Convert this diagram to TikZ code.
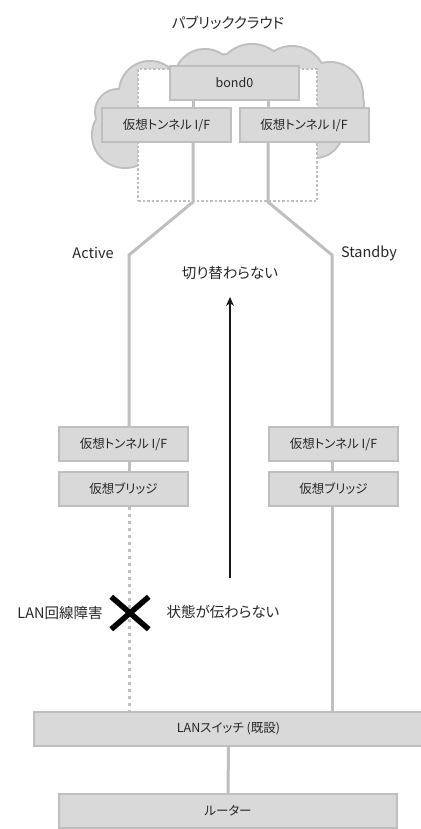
\documentclass[tikz,border=0pt]{standalone}
\usepackage{fontspec}
\setmainfont{Noto Sans CJK JP}[RawFeature=+palt]
\usetikzlibrary{arrows.meta,shapes.misc}
\definecolor{boxfill}{HTML}{D9D9D9}
\definecolor{boxline}{HTML}{BFBFBF}

\begin{document}
\begin{tikzpicture}[x=1pt,y=-1pt,
    box/.style={draw=boxline, fill=boxfill, line width=2pt, minimum width=129pt, minimum height=34pt,
                font=\fontsize{12.5}{14}\selectfont, text=black!85},
    lbl/.style={font=\fontsize{14.5}{17}\selectfont, text=black!85},
    link/.style={draw=boxline, line width=3pt}]
    \useasboundingbox (0,0) rectangle (420,829);

    % cloud: puffs outlined first, then filled
    \foreach \cx/\cy/\r in {125/135/32, 118/112/22, 150/92/30, 205/80/30, 252/80/35,
                            292/80/33, 330/95/32, 335/105/28, 315/130/27, 230/105/50,
                            180/115/40, 280/115/40}
        \fill[boxline] (\cx,\cy) circle[radius=\r+2];
    \foreach \cx/\cy/\r in {125/135/32, 118/112/22, 150/92/30, 205/80/30, 252/80/35,
                            292/80/33, 330/95/32, 335/105/28, 315/130/27, 230/105/50,
                            180/115/40, 280/115/40}
        \fill[boxfill] (\cx,\cy) circle[radius=\r];
    \node[draw=boxline, fill=white, line width=2pt, dash pattern=on 2.5pt off 2pt,
          minimum width=179pt, minimum height=132pt] (grp) at (227.5,135) {};
    \node[lbl] (title) at (228,23) {パブリッククラウド};

    \node[box] (bond) at (234.5,83) {bond0};
    \node[box] (tunA) at (166.5,125) {仮想トンネル I/F};
    \node[box] (tunS) at (304,125) {仮想トンネル I/F};

    \node[box] (tunA2) at (123.5,444) {仮想トンネル I/F};
    \node[box] (brA) at (123.5,489) {仮想ブリッジ};
    \node[box] (tunS2) at (333.5,444) {仮想トンネル I/F};
    \node[box] (brS) at (333.5,489) {仮想ブリッジ};

    \node[box, minimum width=389pt] (sw) at (228.5,729) {LANスイッチ (既設)};
    \node[box, minimum width=338pt] (rt) at (228,811) {ルーター};

    \coordinate (kA) at (193,202);
    \coordinate (kS) at (268,202);
    \coordinate (bA) at (129,255);
    \coordinate (bS) at (332,255);

    \path[link] (bond.south -| kA) -- (tunA.north -| kA);
    \path[link] (bond.south -| kS) -- (tunS.north -| kS);
    \path[link] (tunA.south -| kA) -- (kA) -- (bA) -- (tunA2.north -| bA);
    \path[link] (tunS.south -| kS) -- (kS) -- (bS) -- (tunS2.north -| bS);
    \path[link] (tunA2.south -| bA) -- (brA.north -| bA);
    \path[link] (tunS2.south -| bS) -- (brS.north -| bS);
    \path[link, dash pattern=on 3pt off 4pt] (brA.south -| bA) -- (sw.north -| bA);
    \path[link] (brS.south -| bS) -- (sw.north -| bS);
    \path[link] (sw.south) -- (rt.north);

    \node[lbl] (act) at (93,253) {Active};
    \node[lbl] (stb) at (369,253) {Standby};
    \node[lbl] (keep) at (230,273) {切り替わらない};

    \coordinate (a0) at (230,578);
    \coordinate (a1) at (230,297);
    \draw[-{Stealth[length=9pt,width=8pt]}, line width=1.3pt, black!90] (a0) -- (a1);

    \node[cross out, draw=black, line width=5.5pt, minimum width=32pt, minimum height=27pt] (fail) at (130,613) {};
    \node[lbl] (err) at (60,613) {LAN回線障害};
    \node[lbl] (nope) at (223,612) {状態が伝わらない};
\end{tikzpicture}
\end{document}
